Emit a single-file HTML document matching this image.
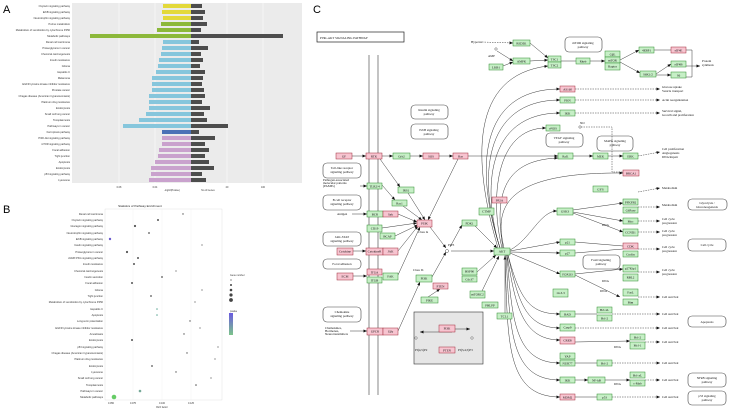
<!DOCTYPE html>
<html><head><meta charset="utf-8"><style>
html,body{margin:0;padding:0;background:#fff}
svg{display:block;font-family:"Liberation Serif",serif}
.g{fill:#c6efc6;stroke:#2e8b2e;stroke-width:0.5}
.p{fill:#f7c4d0;stroke:#a02a3a;stroke-width:0.5}
.r{fill:#fff;stroke:#444;stroke-width:0.6}
.t{font-size:3.2px;text-anchor:middle;fill:#111}
.tl{font-size:3.2px;fill:#111}
.ln{stroke:#222;stroke-width:0.45;fill:none}
.da{stroke:#222;stroke-width:0.45;fill:none;stroke-dasharray:1.5,1}
.al{font-size:2.6px;text-anchor:end;fill:#333;font-family:"Liberation Sans",sans-serif}
.sn{font-size:2.4px;fill:#333;font-family:"Liberation Sans",sans-serif}
</style></head><body>
<svg width="729" height="410" viewBox="0 0 729 410" xmlns="http://www.w3.org/2000/svg">
<defs>
<marker id="a" markerWidth="4" markerHeight="4" refX="3.5" refY="2" orient="auto" markerUnits="userSpaceOnUse"><path d="M0,0.5 L3.5,2 L0,3.5z" fill="#111"/></marker>
</defs>
<g font-family="Liberation Sans,sans-serif">
<text x="3" y="13" font-size="11" font-family="Liberation Sans,sans-serif">A</text>
<text x="3" y="213" font-size="11" font-family="Liberation Sans,sans-serif">B</text>
<text x="313" y="13" font-size="11" font-family="Liberation Sans,sans-serif">C</text>
</g>
<!-- Panel A -->
<rect x="72" y="3" width="230" height="180" fill="#ebebeb"/>
<g stroke="#fff" stroke-width="0.5">
<line x1="119" y1="3" x2="119" y2="183"/><line x1="155" y1="3" x2="155" y2="183"/><line x1="191" y1="3" x2="191" y2="183"/><line x1="227" y1="3" x2="227" y2="183"/><line x1="263" y1="3" x2="263" y2="183"/>
</g>
<g>
<rect x="163" y="4" width="28" height="4" fill="#e3d93a"/><rect x="191" y="4" width="11" height="4" fill="#4d4d4d"/>
<rect x="162" y="10" width="29" height="4" fill="#e3d93a"/><rect x="191" y="10" width="14" height="4" fill="#4d4d4d"/>
<rect x="163" y="16" width="28" height="4" fill="#e3d93a"/><rect x="191" y="16" width="12" height="4" fill="#4d4d4d"/>
<rect x="161" y="22" width="30" height="4" fill="#8cb83a"/><rect x="191" y="22" width="16" height="4" fill="#4d4d4d"/>
<rect x="157" y="28" width="34" height="4" fill="#8cb83a"/><rect x="191" y="28" width="10" height="4" fill="#4d4d4d"/>
<rect x="90" y="34" width="101" height="4" fill="#8cb83a"/><rect x="191" y="34" width="92" height="4" fill="#4d4d4d"/>
<rect x="163" y="40" width="28" height="4" fill="#86c6dc"/><rect x="191" y="40" width="8" height="4" fill="#4d4d4d"/>
<rect x="162" y="46" width="29" height="4" fill="#86c6dc"/><rect x="191" y="46" width="17" height="4" fill="#4d4d4d"/>
<rect x="161" y="52" width="30" height="4" fill="#86c6dc"/><rect x="191" y="52" width="10" height="4" fill="#4d4d4d"/>
<rect x="159" y="58" width="32" height="4" fill="#86c6dc"/><rect x="191" y="58" width="12" height="4" fill="#4d4d4d"/>
<rect x="158" y="64" width="33" height="4" fill="#86c6dc"/><rect x="191" y="64" width="9" height="4" fill="#4d4d4d"/>
<rect x="156" y="70" width="35" height="4" fill="#86c6dc"/><rect x="191" y="70" width="14" height="4" fill="#4d4d4d"/>
<rect x="152" y="76" width="39" height="4" fill="#86c6dc"/><rect x="191" y="76" width="12" height="4" fill="#4d4d4d"/>
<rect x="152" y="82" width="39" height="4" fill="#86c6dc"/><rect x="191" y="82" width="11" height="4" fill="#4d4d4d"/>
<rect x="152" y="88" width="39" height="4" fill="#86c6dc"/><rect x="191" y="88" width="13" height="4" fill="#4d4d4d"/>
<rect x="149" y="94" width="42" height="4" fill="#86c6dc"/><rect x="191" y="94" width="14" height="4" fill="#4d4d4d"/>
<rect x="149" y="100" width="42" height="4" fill="#86c6dc"/><rect x="191" y="100" width="11" height="4" fill="#4d4d4d"/>
<rect x="149" y="106" width="42" height="4" fill="#86c6dc"/><rect x="191" y="106" width="19" height="4" fill="#4d4d4d"/>
<rect x="146" y="112" width="45" height="4" fill="#86c6dc"/><rect x="191" y="112" width="13" height="4" fill="#4d4d4d"/>
<rect x="139" y="118" width="52" height="4" fill="#86c6dc"/><rect x="191" y="118" width="16" height="4" fill="#4d4d4d"/>
<rect x="123" y="124" width="68" height="4" fill="#86c6dc"/><rect x="191" y="124" width="37" height="4" fill="#4d4d4d"/>
<rect x="162" y="130" width="29" height="4" fill="#4a72b6"/><rect x="191" y="130" width="8" height="4" fill="#4d4d4d"/>
<rect x="162" y="136" width="29" height="4" fill="#c9a2cd"/><rect x="191" y="136" width="24" height="4" fill="#4d4d4d"/>
<rect x="162" y="142" width="29" height="4" fill="#c9a2cd"/><rect x="191" y="142" width="14" height="4" fill="#4d4d4d"/>
<rect x="159" y="148" width="32" height="4" fill="#c9a2cd"/><rect x="191" y="148" width="18" height="4" fill="#4d4d4d"/>
<rect x="158" y="154" width="33" height="4" fill="#c9a2cd"/><rect x="191" y="154" width="14" height="4" fill="#4d4d4d"/>
<rect x="155" y="160" width="36" height="4" fill="#c9a2cd"/><rect x="191" y="160" width="18" height="4" fill="#4d4d4d"/>
<rect x="151" y="166" width="40" height="4" fill="#c9a2cd"/><rect x="191" y="166" width="23" height="4" fill="#4d4d4d"/>
<rect x="151" y="172" width="40" height="4" fill="#c9a2cd"/><rect x="191" y="172" width="11" height="4" fill="#4d4d4d"/>
<rect x="149" y="178" width="42" height="4" fill="#c9a2cd"/><rect x="191" y="178" width="15" height="4" fill="#4d4d4d"/>
</g>
<g class="al">
<text x="70" y="7">Oxytocin signaling pathway</text><text x="70" y="13">ErbB signaling pathway</text><text x="70" y="19">Neurotrophin signaling pathway</text><text x="70" y="25">Purine metabolism</text><text x="70" y="31">Metabolism of xenobiotics by cytochrome P450</text><text x="70" y="37">Metabolic pathways</text><text x="70" y="43">Renal cell carcinoma</text><text x="70" y="49">Proteoglycans in cancer</text><text x="70" y="55">Chemical carcinogenesis</text><text x="70" y="61">Insulin resistance</text><text x="70" y="67">Glioma</text><text x="70" y="73">Hepatitis C</text><text x="70" y="79">Melanoma</text><text x="70" y="85">EGFR tyrosine kinase inhibitor resistance</text><text x="70" y="91">Prostate cancer</text><text x="70" y="97">Chagas disease (American trypanosomiasis)</text><text x="70" y="103">Platinum drug resistance</text><text x="70" y="109">Endocytosis</text><text x="70" y="115">Small cell lung cancer</text><text x="70" y="121">Toxoplasmosis</text><text x="70" y="127">Pathways in cancer</text><text x="70" y="133">Ferroptosis pathway</text><text x="70" y="139">PI3K-Akt signaling pathway</text><text x="70" y="145">mTOR signaling pathway</text><text x="70" y="151">Focal adhesion</text><text x="70" y="157">Tight junction</text><text x="70" y="163">Apoptosis</text><text x="70" y="169">Endocytosis</text><text x="70" y="175">p53 signaling pathway</text><text x="70" y="181">Lysosome</text>
</g>
<g class="sn" text-anchor="middle"><text x="119" y="188">0.08</text><text x="155" y="188">0.04</text><text x="227" y="188">20</text><text x="263" y="188">100</text><text x="172" y="191">-log10(Pvalue)</text><text x="208" y="191">No.of Genes</text></g>
<!-- Panel B -->
<text x="140" y="207" font-size="3" text-anchor="middle" font-family="Liberation Sans,sans-serif" fill="#222">Statistics of Pathway Enrichment</text>
<rect x="105" y="209" width="117" height="191" fill="#fff" stroke="#ccc" stroke-width="0.3"/>
<g stroke="#eee" stroke-width="0.4"><line x1="133" y1="209" x2="133" y2="400"/><line x1="162" y1="209" x2="162" y2="400"/><line x1="191" y1="209" x2="191" y2="400"/></g>
<g fill="#555">
<circle cx="183" cy="214" r="0.7"/><circle cx="158" cy="220" r="1"/><circle cx="135" cy="226" r="1.1"/><circle cx="149" cy="233" r="0.9"/><circle cx="110" cy="239" r="1.2" fill="#6a5acd"/><circle cx="202" cy="245" r="0.6"/><circle cx="127" cy="252" r="1.1"/><circle cx="138" cy="258" r="1"/><circle cx="134" cy="264" r="1"/><circle cx="176" cy="271" r="0.6"/><circle cx="162" cy="277" r="0.9"/><circle cx="132" cy="283" r="1"/><circle cx="202" cy="290" r="0.6"/><circle cx="151" cy="296" r="0.9"/><circle cx="195" cy="302" r="0.6"/><circle cx="157" cy="309" r="0.8" fill="#6a9"/><circle cx="157" cy="315" r="0.8" fill="#6a9"/><circle cx="190" cy="321" r="0.7"/><circle cx="200" cy="328" r="0.6"/><circle cx="184" cy="334" r="0.7"/><circle cx="132" cy="340" r="1"/><circle cx="218" cy="347" r="0.6"/><circle cx="187" cy="353" r="0.7"/><circle cx="215" cy="359" r="0.6"/><circle cx="152" cy="366" r="0.9"/><circle cx="176" cy="372" r="0.7"/><circle cx="211" cy="378" r="0.6"/><circle cx="196" cy="385" r="0.8"/><circle cx="140" cy="391" r="1.3" fill="#7a9"/><circle cx="114" cy="397" r="2.3" fill="#6c6"/>
</g>
<g class="al" font-size="2.3">
<text x="103" y="215">Renal cell carcinoma</text><text x="103" y="221">Oxytocin signaling pathway</text><text x="103" y="227">Glucagon signaling pathway</text><text x="103" y="234">Neurotrophin signaling pathway</text><text x="103" y="240">ErbB signaling pathway</text><text x="103" y="246">Insulin signaling pathway</text><text x="103" y="253">Proteoglycans in cancer</text><text x="103" y="259">cGMP-PKG signaling pathway</text><text x="103" y="265">Insulin resistance</text><text x="103" y="272">Chemical carcinogenesis</text><text x="103" y="278">Insulin secretion</text><text x="103" y="284">Focal adhesion</text><text x="103" y="291">Glioma</text><text x="103" y="297">Tight junction</text><text x="103" y="303">Metabolism of xenobiotics by cytochrome P450</text><text x="103" y="310">Hepatitis C</text><text x="103" y="316">Apoptosis</text><text x="103" y="322">Long-term potentiation</text><text x="103" y="329">EGFR tyrosine kinase inhibitor resistance</text><text x="103" y="335">Amoebiasis</text><text x="103" y="341">Endocytosis</text><text x="103" y="348">p53 signaling pathway</text><text x="103" y="354">Chagas disease (American trypanosomiasis)</text><text x="103" y="360">Platinum drug resistance</text><text x="103" y="367">Endocytosis</text><text x="103" y="373">Lysosome</text><text x="103" y="379">Small cell lung cancer</text><text x="103" y="386">Toxoplasmosis</text><text x="103" y="392">Pathways in cancer</text><text x="103" y="398">Metabolic pathways</text>
</g>
<g class="sn" text-anchor="middle"><text x="111" y="404">0.050</text><text x="133" y="404">0.075</text><text x="162" y="404">0.100</text><text x="191" y="404">0.125</text><text x="162" y="408">Rich factor</text></g>
<g class="sn"><text x="230" y="276">Gene number</text>
<circle cx="231" cy="280" r="0.6" fill="#444"/><circle cx="231" cy="285" r="1" fill="#444"/><circle cx="231" cy="290" r="1.3" fill="#444"/><circle cx="231" cy="295" r="1.6" fill="#444"/><circle cx="231" cy="300" r="1.9" fill="#444"/>
<text x="230" y="312">pvalue</text></g>
<defs><linearGradient id="gr" x1="0" y1="0" x2="0" y2="1"><stop offset="0" stop-color="#6a5ae0"/><stop offset="1" stop-color="#7cc48a"/></linearGradient></defs>
<rect x="229" y="313" width="4" height="22" fill="url(#gr)"/>
<!-- Panel C -->
<rect x="317" y="32" width="87" height="10" fill="#fff" stroke="#222" stroke-width="0.7"/>
<text x="320" y="39" font-size="4" class="tl">PI3K-AKT SIGNALING PATHWAY</text>
<g stroke="#555" stroke-width="0.7"><line x1="369" y1="55" x2="369" y2="395"/><line x1="378" y1="55" x2="378" y2="395"/></g>
<!-- rounded boxes -->
<g>
<rect class="r" x="565" y="37" width="37" height="15" rx="4"/><text class="t" x="583" y="44">mTOR signaling</text><text class="t" x="583" y="48">pathway</text>
<rect class="r" x="411" y="105" width="37" height="14" rx="4"/><text class="t" x="429" y="111">Insulin signaling</text><text class="t" x="429" y="115">pathway</text>
<rect class="r" x="411" y="124" width="37" height="15" rx="4"/><text class="t" x="429" y="131">ErbB signaling</text><text class="t" x="429" y="135">pathway</text>
<rect class="r" x="546" y="133" width="37" height="14" rx="4"/><text class="t" x="564" y="139">VEGF signaling</text><text class="t" x="564" y="143">pathway</text>
<rect class="r" x="597" y="136" width="36" height="15" rx="4"/><text class="t" x="615" y="142">MAPK signaling</text><text class="t" x="615" y="146">pathway</text>
<rect class="r" x="323" y="163" width="38" height="15" rx="4"/><text class="t" x="342" y="169">Toll-like receptor</text><text class="t" x="342" y="173">signaling pathway</text>
<rect class="r" x="323" y="195" width="38" height="15" rx="4"/><text class="t" x="342" y="201">B cell receptor</text><text class="t" x="342" y="205">signaling pathway</text>
<rect class="r" x="323" y="232" width="38" height="14" rx="4"/><text class="t" x="342" y="238">JAK-STAT</text><text class="t" x="342" y="242">signaling pathway</text>
<rect class="r" x="323" y="259" width="38" height="10" rx="4"/><text class="t" x="342" y="265">Focal adhesion</text>
<rect class="r" x="323" y="307" width="38" height="15" rx="4"/><text class="t" x="342" y="313">Chemokine</text><text class="t" x="342" y="317">signaling pathway</text>
<rect class="r" x="583" y="255" width="37" height="14" rx="4"/><text class="t" x="601" y="261">FoxO signaling</text><text class="t" x="601" y="265">pathway</text>
<rect class="r" x="688" y="199" width="39" height="11" rx="4"/><text class="t" x="707" y="204">Glycolysis /</text><text class="t" x="707" y="208">Gluconeogenesis</text>
<rect class="r" x="688" y="239" width="38" height="12" rx="4"/><text class="t" x="707" y="246">Cell cycle</text>
<rect class="r" x="688" y="316" width="38" height="11" rx="4"/><text class="t" x="707" y="323">Apoptosis</text>
<rect class="r" x="688" y="373" width="38" height="14" rx="4"/><text class="t" x="707" y="379">NFkB signaling</text><text class="t" x="707" y="383">pathway</text>
<rect class="r" x="688" y="391" width="38" height="14" rx="4"/><text class="t" x="707" y="397">p53 signaling</text><text class="t" x="707" y="401">pathway</text>
</g>
<!-- legend box -->
<rect x="414" y="312" width="69" height="52" fill="#e6e6e6" stroke="#333" stroke-width="0.6"/>
<!-- lines -->
<g class="ln" marker-end="url(#a)">
<path d="M482,42 L513,43" class="da"/>
<path d="M497,51 L513,61"/><path d="M503,66 L513,62"/>
<path d="M530,43 L548,58"/><path d="M530,61 L548,60"/>
<path d="M590,61 L605,61"/><path d="M620,60 L639,50"/><path d="M620,62 L640,73"/>
<path d="M656,74 L671,64"/><path d="M656,75 L671,75"/>
<path d="M686,66 L700,66"/>
<path d="M575,89 L660,89" class="da"/><path d="M575,100 L660,100" class="da"/><path d="M575,113 L660,113" class="da"/>
<path d="M638,156 L660,152" class="da"/><path d="M573,156 L593,156"/><path d="M608,156 L623,156"/>
<path d="M352,156 L366,156"/><path d="M382,156 L393,156"/><path d="M410,156 L423,156"/><path d="M439,156 L453,156"/><path d="M468,156 L558,156"/>
<path d="M380,159 L400,187"/><path d="M408,193 L425,220"/><path d="M382,185 L395,200"/><path d="M403,206 L422,220"/><path d="M458,159 L428,220"/>
<path d="M360,186 L367,186"/><path d="M352,214 L367,214"/><path d="M398,214 L417,222"/><path d="M382,228 L417,223"/><path d="M395,236 L418,225"/><path d="M398,251 L418,226"/><path d="M398,275 L420,227"/><path d="M398,331 L420,282"/>
<path d="M353,251 L366,251"/><path d="M353,276 L367,276"/><path d="M350,331 L367,331"/>
<path d="M430,227 L446,248"/><path d="M432,277 L446,252"/><path d="M450,247 L462,225"/><path d="M451,251 L494,251"/>
<path d="M475,226 L497,248"/><path d="M477,272 L496,255"/><path d="M482,291 L499,256"/><path d="M505,313 L505,256"/><path d="M428,297 L440,289"/>
<path d="M500,248 C475,170 478,89 560,89"/><path d="M500,248 C478,180 482,100 560,100"/><path d="M500,248 C482,190 486,113 560,113"/>
<path d="M498,248 C472,160 470,75 548,66"/><path d="M502,248 C490,200 495,128 546,128"/>
<path d="M504,248 C495,210 500,172 623,173"/><path d="M503,248 C495,200 500,160 558,158"/>
<path d="M510,250 C530,240 540,211 557,211"/><path d="M510,251 L560,242"/><path d="M510,252 L560,253"/><path d="M510,253 L560,274"/>
<path d="M508,255 C520,300 530,314 560,314"/><path d="M508,255 C518,300 525,328 560,328"/><path d="M507,255 C515,300 520,340 560,340"/><path d="M507,255 C512,320 515,363 560,363"/><path d="M506,255 C510,330 510,380 560,380"/><path d="M505,255 C508,340 505,397 560,397"/>
<path d="M573,210 L623,203"/><path d="M573,212 L623,221"/><path d="M573,213 L623,232"/>
<path d="M575,274 L623,269"/><path d="M575,275 L620,297" /><path d="M575,342 L630,341"/><path d="M575,380 L588,380"/><path d="M605,380 L630,380"/>
<path d="M638,192 L660,188" class="da"/><path d="M638,207 L660,207" class="da"/><path d="M638,221 L660,221" class="da"/><path d="M638,232 L660,232" class="da"/><path d="M638,249 L660,249" class="da"/><path d="M638,272 L660,272" class="da"/><path d="M638,297 L660,297" class="da"/><path d="M612,314 L660,314" class="da"/><path d="M575,328 L660,328" class="da"/><path d="M645,342 L660,342" class="da"/><path d="M612,363 L660,363" class="da"/><path d="M645,380 L660,380" class="da"/><path d="M612,397 L660,397" class="da"/>
<path d="M443,329 L470,329"/><path d="M452,332 L420,332"/>
</g>
<path d="M581,127 L612,127 L612,172 L639,172" class="da"/>
<path d="M686,50 L692,50 L692,77 L686,77" class="ln"/>
<g class="ln"><path d="M575,242 L623,246"/><path d="M575,253 L623,249"/><path d="M575,314 L597,314"/><path d="M575,363 L597,363"/><path d="M575,397 L597,397"/><path d="M561,61 L576,61"/><path d="M654,50 L671,50"/></g>
<g fill="#fff" stroke="#222" stroke-width="0.4"><circle cx="496" cy="49" r="1.2"/><circle cx="447" cy="251" r="1.5"/><circle cx="580" cy="127" r="1.2"/><circle cx="416" cy="338" r="1.2"/><circle cx="472" cy="338" r="1.2"/></g>
<!-- nodes -->
<g>
<rect class="g" x="513" y="40" width="17" height="6"/><text class="t" x="521.5" y="44.5">REDD1</text>
<rect class="g" x="513" y="58" width="17" height="6"/><text class="t" x="521.5" y="62.5">AMPK</text>
<rect class="g" x="489" y="64" width="14" height="6"/><text class="t" x="496" y="68.5">LKB1</text>
<rect class="g" x="548" y="56" width="13" height="6"/><text class="t" x="554.5" y="60.5">TSC1</text>
<rect class="g" x="548" y="62" width="13" height="6"/><text class="t" x="554.5" y="66.5">TSC2</text>
<rect class="g" x="576" y="58" width="14" height="6"/><text class="t" x="583" y="62.5">Rheb</text>
<rect class="g" x="605" y="51" width="15" height="6"/><text class="t" x="612.5" y="55.5">GβL</text>
<rect class="g" x="605" y="57" width="15" height="6"/><text class="t" x="612.5" y="61.5">mTOR</text>
<rect class="g" x="605" y="63" width="15" height="7"/><text class="t" x="612.5" y="67.5">Raptor</text>
<rect class="g" x="639" y="47" width="15" height="6"/><text class="t" x="646.5" y="51.5">4EBP1</text>
<rect class="p" x="671" y="47" width="15" height="6"/><text class="t" x="678.5" y="51.5">eIF4E</text>
<rect class="g" x="671" y="61" width="15" height="6"/><text class="t" x="678.5" y="65.5">eIF4B</text>
<rect class="g" x="671" y="72" width="15" height="6"/><text class="t" x="678.5" y="76.5">S6</text>
<rect class="g" x="640" y="71" width="16" height="6"/><text class="t" x="648" y="75.5">S6K1/2</text>
<rect class="p" x="560" y="86" width="15" height="6"/><text class="t" x="567.5" y="90.5">AS160</text>
<rect class="g" x="560" y="97" width="15" height="6"/><text class="t" x="567.5" y="101.5">PKN</text>
<rect class="g" x="560" y="110" width="15" height="6"/><text class="t" x="567.5" y="114.5">IKK</text>
<rect class="g" x="546" y="125" width="14" height="6"/><text class="t" x="553" y="129.5">eNOS</text>
<rect class="g" x="558" y="153" width="15" height="6"/><text class="t" x="565.5" y="157.5">Raf1</text>
<rect class="g" x="593" y="153" width="15" height="6"/><text class="t" x="600.5" y="157.5">MEK</text>
<rect class="g" x="623" y="153" width="15" height="6"/><text class="t" x="630.5" y="157.5">ERK</text>
<rect class="p" x="623" y="170" width="16" height="6"/><text class="t" x="631" y="174.5">BRCA1</text>
<rect class="p" x="336" y="153" width="16" height="6"/><text class="t" x="344" y="157.5">GF</text>
<rect class="p" x="366" y="153" width="16" height="6"/><text class="t" x="374" y="157.5">RTK</text>
<rect class="g" x="393" y="153" width="17" height="6"/><text class="t" x="401.5" y="157.5">Grb2</text>
<rect class="p" x="423" y="153" width="16" height="6"/><text class="t" x="431" y="157.5">SOS</text>
<rect class="p" x="453" y="153" width="15" height="6"/><text class="t" x="460.5" y="157.5">Ras</text>
<rect class="g" x="367" y="183" width="15" height="6"/><text class="t" x="374.5" y="187.5">TLR2/4</text>
<rect class="g" x="398" y="187" width="16" height="6"/><text class="t" x="406" y="191.5">IRS1</text>
<rect class="g" x="392" y="200" width="15" height="6"/><text class="t" x="399.5" y="204.5">Rac1</text>
<rect class="p" x="492" y="197" width="15" height="6"/><text class="t" x="499.5" y="201.5">PP2A</text>
<rect class="g" x="479" y="208" width="15" height="7"/><text class="t" x="486.5" y="212.5">CTMP</text>
<rect class="g" x="593" y="186" width="15" height="6"/><text class="t" x="600.5" y="190.5">GYS</text>
<rect class="g" x="623" y="199" width="15" height="6"/><text class="t" x="630.5" y="203.5">PFKFB2</text>
<rect class="g" x="623" y="207" width="15" height="6"/><text class="t" x="630.5" y="211.5">G6Pase</text>
<rect class="g" x="367" y="211" width="16" height="6"/><text class="t" x="375" y="215.5">BCR</text>
<rect class="p" x="383" y="211" width="15" height="6"/><text class="t" x="390.5" y="215.5">Syk</text>
<rect class="g" x="367" y="225" width="15" height="7"/><text class="t" x="374.5" y="229.5">CD19</text>
<rect class="g" x="380" y="233" width="15" height="6"/><text class="t" x="387.5" y="237.5">BCAP</text>
<rect class="p" x="417" y="220" width="15" height="7"/><text class="t" x="424.5" y="224.5">PI3K</text>
<rect class="g" x="462" y="220" width="15" height="6"/><text class="t" x="469.5" y="224.5">PDK1</text>
<rect class="g" x="494" y="248" width="16" height="7"/><text class="t" x="502" y="252.5">AKT</text>
<rect class="p" x="337" y="248" width="16" height="7"/><text class="t" x="345" y="252.5">Cytokine</text>
<rect class="p" x="366" y="248" width="17" height="7"/><text class="t" x="374.5" y="252.5">CytokineR</text>
<rect class="p" x="383" y="248" width="15" height="7"/><text class="t" x="390.5" y="252.5">JAK</text>
<rect class="p" x="337" y="273" width="16" height="7"/><text class="t" x="345" y="277.5">ECM</text>
<rect class="p" x="367" y="269" width="15" height="6"/><text class="t" x="374.5" y="273.5">ITGA</text>
<rect class="g" x="367" y="277" width="15" height="6"/><text class="t" x="374.5" y="281.5">ITGB</text>
<rect class="g" x="383" y="273" width="15" height="7"/><text class="t" x="390.5" y="277.5">FAK</text>
<rect class="g" x="416" y="275" width="16" height="7"/><text class="t" x="424" y="279.5">PI3K</text>
<rect class="p" x="433" y="283" width="15" height="6"/><text class="t" x="440.5" y="287.5">PTEN</text>
<rect class="g" x="421" y="297" width="17" height="6"/><text class="t" x="429.5" y="301.5">PIKE</text>
<rect class="g" x="462" y="268" width="15" height="7"/><text class="t" x="469.5" y="272.5">HSP90</text>
<rect class="g" x="462" y="276" width="15" height="6"/><text class="t" x="469.5" y="280.5">Cdc37</text>
<rect class="g" x="470" y="291" width="15" height="7"/><text class="t" x="477.5" y="295.5">mTORC2</text>
<rect class="g" x="482" y="302" width="16" height="6"/><text class="t" x="490" y="306.5">PHLPP</text>
<rect class="g" x="497" y="313" width="15" height="6"/><text class="t" x="504.5" y="317.5">TCL1</text>
<rect class="p" x="367" y="328" width="16" height="7"/><text class="t" x="375" y="332.5">GPCR</text>
<rect class="p" x="383" y="328" width="15" height="7"/><text class="t" x="390.5" y="332.5">Gβγ</text>
<rect class="p" x="439" y="325" width="16" height="7"/><text class="t" x="447" y="329.5">PI3K</text>
<rect class="p" x="439" y="347" width="16" height="6"/><text class="t" x="447" y="351.5">PTEN</text>
<rect class="g" x="557" y="208" width="16" height="7"/><text class="t" x="565" y="212.5">GSK3</text>
<rect class="g" x="623" y="218" width="15" height="6"/><text class="t" x="630.5" y="222.5">Myc</text>
<rect class="g" x="623" y="229" width="15" height="7"/><text class="t" x="630.5" y="233.5">CCND1</text>
<rect class="g" x="560" y="239" width="15" height="6"/><text class="t" x="567.5" y="243.5">p21</text>
<rect class="g" x="560" y="250" width="15" height="6"/><text class="t" x="567.5" y="254.5">p27</text>
<rect class="p" x="623" y="243" width="15" height="6"/><text class="t" x="630.5" y="247.5">CDK</text>
<rect class="g" x="623" y="251" width="15" height="6"/><text class="t" x="630.5" y="255.5">Cyclin</text>
<rect class="g" x="560" y="271" width="15" height="6"/><text class="t" x="567.5" y="275.5">FOXO3</text>
<rect class="g" x="623" y="265" width="15" height="7"/><text class="t" x="630.5" y="269.5">p27Kip1</text>
<rect class="g" x="623" y="274" width="15" height="7"/><text class="t" x="630.5" y="278.5">RBL2</text>
<rect class="g" x="553" y="289" width="15" height="8"/><text class="t" x="560.5" y="294">14-3-3</text>
<rect class="g" x="623" y="289" width="15" height="7"/><text class="t" x="630.5" y="293.5">FasL</text>
<rect class="g" x="623" y="299" width="15" height="6"/><text class="t" x="630.5" y="303.5">Bim</text>
<rect class="g" x="560" y="311" width="15" height="6"/><text class="t" x="567.5" y="315.5">BAD</text>
<rect class="g" x="597" y="307" width="15" height="6"/><text class="t" x="604.5" y="311">Bcl-xL</text>
<rect class="g" x="597" y="315" width="15" height="6"/><text class="t" x="604.5" y="319.5">Bcl-2</text>
<rect class="g" x="560" y="324" width="15" height="7"/><text class="t" x="567.5" y="328.5">Casp9</text>
<rect class="p" x="560" y="337" width="15" height="7"/><text class="t" x="567.5" y="341.5">CREB</text>
<rect class="g" x="630" y="334" width="15" height="6"/><text class="t" x="637.5" y="338.5">Bcl-2</text>
<rect class="g" x="630" y="342" width="15" height="7"/><text class="t" x="637.5" y="346.5">Mcl-1</text>
<rect class="g" x="560" y="353" width="15" height="6"/><text class="t" x="567.5" y="357.5">YAP</text>
<rect class="g" x="560" y="360" width="15" height="6"/><text class="t" x="567.5" y="364.5">NUR77</text>
<rect class="g" x="597" y="360" width="15" height="6"/><text class="t" x="604.5" y="364.5">Bcl-2</text>
<rect class="g" x="560" y="377" width="15" height="6"/><text class="t" x="567.5" y="381.5">IKK</text>
<rect class="g" x="588" y="377" width="17" height="6"/><text class="t" x="596.5" y="381.5">NF-kB</text>
<rect class="g" x="630" y="372" width="15" height="6"/><text class="t" x="637.5" y="376.5">Bcl-xL</text>
<rect class="g" x="630" y="380" width="15" height="6"/><text class="t" x="637.5" y="384.5">c-Myb</text>
<rect class="p" x="560" y="394" width="15" height="6"/><text class="t" x="567.5" y="398.5">MDM2</text>
<rect class="g" x="597" y="394" width="15" height="6"/><text class="t" x="604.5" y="398.5">p53</text>
</g>
<!-- free text -->
<g class="tl">
<text x="471" y="43">Hypoxia</text><text x="488" y="57">AMP</text><text x="580" y="124">NO</text>
<text x="702" y="62">Protein</text><text x="702" y="66">synthesis</text>
<text x="662" y="88">Glucose uptake</text><text x="662" y="92">Vesicle transport</text>
<text x="662" y="101">Actin reorganization</text>
<text x="662" y="112">Survival signal,</text><text x="662" y="116">Growth and proliferation</text>
<text x="662" y="150">Cell proliferation</text><text x="662" y="154">Angiogenesis</text><text x="662" y="158">DNA Repair</text>
<text x="662" y="189">Metabolism</text><text x="662" y="206">Metabolism</text>
<text x="662" y="220">Cell cycle</text><text x="662" y="224">progression</text>
<text x="662" y="232">Cell cycle</text><text x="662" y="236">progression</text>
<text x="662" y="248">Cell cycle</text><text x="662" y="252">progression</text>
<text x="662" y="271">Cell cycle</text><text x="662" y="275">progression</text>
<text x="662" y="298">Cell survival</text><text x="662" y="315">Cell survival</text><text x="662" y="329">Cell survival</text><text x="662" y="343">Cell survival</text><text x="662" y="364">Cell survival</text><text x="662" y="381">Cell survival</text><text x="662" y="398">Cell survival</text>
<text x="323" y="181">Pathogen-associated</text><text x="323" y="184">molecular patterns</text><text x="323" y="187">(PAMPs)</text>
<text x="337" y="215">Antigen</text>
<text x="418" y="233">Class Ia</text><text x="413" y="271">Class Ib</text>
<text x="325" y="329">Chemokines,</text><text x="325" y="332">Hormones,</text><text x="325" y="335">Neurotransmitters</text>
<text x="415" y="351">PI(4,5)P2</text><text x="458" y="351">PI(3,4,5)P3</text>
<text x="448" y="246">PIP3</text>
<text x="602" y="226">DNA</text><text x="602" y="282">DNA</text><text x="600" y="292">DNA</text><text x="614" y="348">DNA</text><text x="614" y="385">DNA</text>
</g>
</svg>
</body></html>
